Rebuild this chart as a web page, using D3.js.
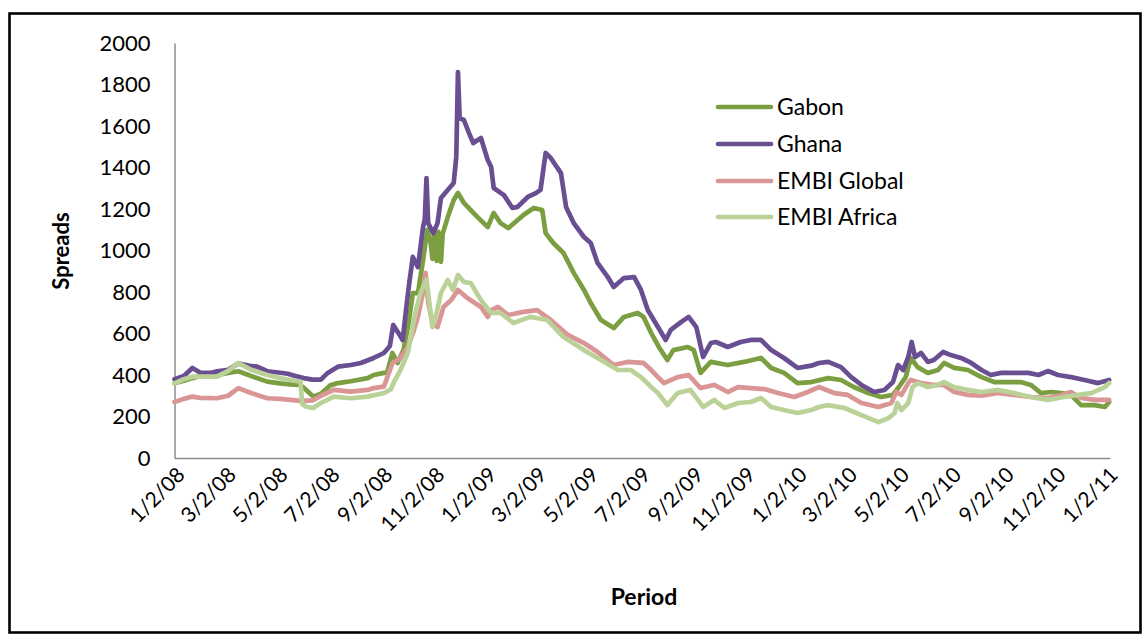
<!DOCTYPE html>
<html><head><meta charset="utf-8">
<script src="https://cdn.jsdelivr.net/npm/d3@7"></script>
<style>
html,body{margin:0;padding:0;background:#fff;}
svg text{font-family:Lato,"Open Sans",sans-serif;fill:#000;}
</style></head>
<body><svg id="c" width="1146" height="637"></svg>
<script>
const seriesNames = ["Gabon","Ghana","EMBI Global","EMBI Africa"];
const seriesColors = ["#7A9E40","#694E92","#D99694","#BAD298"];
const yTicks = [0,200,400,600,800,1000,1200,1400,1600,1800,2000];
const xTickLabels = ["1/2/08","3/2/08","5/2/08","7/2/08","9/2/08","11/2/08","1/2/09","3/2/09","5/2/09","7/2/09","9/2/09","11/2/09","1/2/10","3/2/10","5/2/10","7/2/10","9/2/10","11/2/10","1/2/11"];

const gabon = [["2008-01-02",360],["2008-01-13",372],["2008-01-23",385],["2008-02-01",395],["2008-02-21",400],["2008-03-05",410],["2008-03-17",418],["2008-04-01",395],["2008-04-20",368],["2008-05-05",360],["2008-05-17",355],["2008-05-29",352],["2008-06-04",330],["2008-06-13",296],["2008-06-22",310],["2008-07-03",350],["2008-07-12",361],["2008-07-27",370],["2008-08-16",385],["2008-08-23",400],["2008-09-04",410],["2008-09-08",415],["2008-09-14",506],["2008-09-20",458],["2008-09-27",520],["2008-10-03",650],["2008-10-08",795],["2008-10-14",795],["2008-10-20",954],["2008-10-25",1099],["2008-10-29",1036],["2008-10-31",960],["2008-11-02",1080],["2008-11-05",950],["2008-11-07",1090],["2008-11-10",945],["2008-11-12",1080],["2008-11-18",1161],["2008-11-25",1243],["2008-11-30",1277],["2008-12-07",1229],["2008-12-15",1195],["2008-12-23",1161],["2009-01-04",1113],["2009-01-11",1181],["2009-01-19",1132],["2009-01-28",1108],["2009-02-15",1171],["2009-02-27",1205],["2009-03-09",1195],["2009-03-13",1084],["2009-03-22",1036],["2009-04-03",988],["2009-04-15",892],["2009-04-27",810],["2009-05-05",747],["2009-05-17",665],["2009-06-01",626],["2009-06-13",680],["2009-06-29",699],["2009-07-06",680],["2009-07-15",602],["2009-07-24",535],["2009-08-03",472],["2009-08-10",520],["2009-08-27",535],["2009-09-03",520],["2009-09-11",410],["2009-09-23",463],["2009-10-13",448],["2009-11-01",463],["2009-11-21",482],["2009-12-03",434],["2009-12-18",410],["2010-01-03",361],["2010-01-19",366],["2010-02-08",385],["2010-02-23",376],["2010-03-10",342],["2010-03-27",313],["2010-04-11",294],["2010-04-25",304],["2010-05-02",342],["2010-05-10",390],["2010-05-16",482],["2010-05-24",438],["2010-06-05",410],["2010-06-17",424],["2010-06-24",458],["2010-07-06",434],["2010-07-22",424],["2010-08-07",390],["2010-08-22",366],["2010-09-07",366],["2010-09-22",366],["2010-10-04",352],["2010-10-16",313],["2010-10-28",318],["2010-11-09",313],["2010-11-20",304],["2010-12-02",255],["2010-12-18",255],["2010-12-30",246],["2011-01-04",270]];

const ghana = [["2008-01-02",380],["2008-01-13",395],["2008-01-23",434],["2008-02-01",412],["2008-02-13",410],["2008-02-21",418],["2008-03-05",425],["2008-03-17",455],["2008-03-29",445],["2008-04-08",440],["2008-04-20",418],["2008-05-03",412],["2008-05-14",406],["2008-05-23",395],["2008-06-02",385],["2008-06-12",378],["2008-06-22",378],["2008-06-30",410],["2008-07-12",440],["2008-07-27",448],["2008-08-08",458],["2008-08-23",482],["2008-09-04",506],["2008-09-11",540],["2008-09-15",641],["2008-09-21",602],["2008-09-26",569],["2008-09-30",713],["2008-10-04",850],["2008-10-08",969],["2008-10-14",920],["2008-10-20",1113],["2008-10-22",1150],["2008-10-24",1349],["2008-10-26",1132],["2008-11-01",1084],["2008-11-06",1132],["2008-11-10",1253],["2008-11-18",1292],["2008-11-25",1325],["2008-11-28",1451],["2008-11-30",1860],["2008-12-02",1638],["2008-12-07",1629],["2008-12-13",1566],["2008-12-18",1518],["2008-12-27",1542],["2009-01-04",1436],["2009-01-08",1402],["2009-01-11",1301],["2009-01-23",1267],["2009-02-02",1205],["2009-02-08",1210],["2009-02-20",1258],["2009-03-01",1275],["2009-03-07",1292],["2009-03-13",1470],["2009-03-19",1446],["2009-03-31",1373],["2009-04-06",1210],["2009-04-15",1132],["2009-04-27",1065],["2009-05-05",1036],["2009-05-13",940],["2009-05-25",872],["2009-06-01",824],["2009-06-13",867],["2009-06-25",872],["2009-07-03",810],["2009-07-11",713],["2009-07-23",631],["2009-08-01",569],["2009-08-07",617],["2009-08-19",655],["2009-08-28",680],["2009-09-06",631],["2009-09-14",487],["2009-09-23",554],["2009-09-29",559],["2009-10-13",535],["2009-10-28",559],["2009-11-09",569],["2009-11-21",569],["2009-12-03",520],["2009-12-18",482],["2010-01-03",434],["2010-01-19",445],["2010-01-28",458],["2010-02-08",463],["2010-02-23",438],["2010-03-07",390],["2010-03-19",352],["2010-04-03",318],["2010-04-15",328],["2010-04-25",366],["2010-05-01",448],["2010-05-07",424],["2010-05-13",487],["2010-05-17",559],["2010-05-21",487],["2010-05-28",506],["2010-06-05",463],["2010-06-12",472],["2010-06-23",511],["2010-07-02",496],["2010-07-14",482],["2010-07-26",458],["2010-08-07",424],["2010-08-18",400],["2010-08-30",410],["2010-09-14",410],["2010-10-01",410],["2010-10-13",400],["2010-10-24",419],["2010-11-05",400],["2010-11-20",390],["2010-12-06",376],["2010-12-22",361],["2011-01-04",376]];

const embiGlobal = [["2008-01-02",270],["2008-01-13",285],["2008-01-23",296],["2008-02-01",290],["2008-02-21",288],["2008-03-05",300],["2008-03-17",337],["2008-04-01",313],["2008-04-20",288],["2008-05-05",285],["2008-05-17",280],["2008-05-29",275],["2008-06-13",278],["2008-06-22",300],["2008-07-07",328],["2008-07-27",320],["2008-08-16",328],["2008-08-23",337],["2008-09-04",344],["2008-09-14",458],["2008-09-23",480],["2008-10-02",535],["2008-10-08",600],["2008-10-14",680],["2008-10-20",800],["2008-10-23",892],["2008-10-26",750],["2008-10-31",651],["2008-11-06",631],["2008-11-13",728],["2008-11-22",761],["2008-11-30",810],["2008-12-11",771],["2008-12-27",728],["2009-01-04",680],["2009-01-08",713],["2009-01-16",728],["2009-01-28",689],["2009-02-15",704],["2009-03-03",713],["2009-03-19",665],["2009-04-08",593],["2009-04-27",554],["2009-05-13",511],["2009-06-01",448],["2009-06-17",463],["2009-07-06",458],["2009-07-15",424],["2009-07-23",390],["2009-07-30",361],["2009-08-15",390],["2009-08-28",400],["2009-09-11",337],["2009-09-27",352],["2009-10-13",318],["2009-10-25",342],["2009-11-09",337],["2009-11-25",332],["2009-12-11",313],["2009-12-30",294],["2010-01-15",318],["2010-01-28",342],["2010-02-15",313],["2010-03-03",304],["2010-03-19",265],["2010-04-08",246],["2010-04-23",265],["2010-04-29",318],["2010-05-05",304],["2010-05-13",361],["2010-05-16",376],["2010-05-28",361],["2010-06-12",352],["2010-06-24",352],["2010-07-06",318],["2010-07-22",304],["2010-08-07",300],["2010-08-27",313],["2010-09-14",304],["2010-10-04",294],["2010-10-24",289],["2010-11-09",304],["2010-11-20",318],["2010-12-02",289],["2010-12-18",280],["2011-01-04",280]];

const embiAfrica = [["2008-01-02",360],["2008-01-13",380],["2008-01-23",392],["2008-02-01",392],["2008-02-21",392],["2008-03-05",420],["2008-03-17",458],["2008-04-01",425],["2008-04-20",400],["2008-05-05",385],["2008-05-17",376],["2008-05-29",368],["2008-05-31",260],["2008-06-05",247],["2008-06-13",241],["2008-06-22",265],["2008-07-07",296],["2008-07-27",288],["2008-08-16",296],["2008-09-04",313],["2008-09-12",330],["2008-09-17",376],["2008-09-23",420],["2008-10-02",506],["2008-10-11",700],["2008-10-17",795],["2008-10-24",858],["2008-10-31",631],["2008-11-05",700],["2008-11-10",795],["2008-11-18",858],["2008-11-24",810],["2008-11-30",882],["2008-12-07",848],["2008-12-15",843],["2008-12-27",761],["2009-01-08",699],["2009-01-19",699],["2009-02-03",651],["2009-02-23",680],["2009-03-15",665],["2009-04-03",583],["2009-04-27",520],["2009-05-17",472],["2009-06-06",424],["2009-06-21",424],["2009-07-03",390],["2009-07-15",342],["2009-07-23",313],["2009-08-03",255],["2009-08-15",313],["2009-08-30",328],["2009-09-14",246],["2009-09-27",280],["2009-10-09",241],["2009-10-25",265],["2009-11-09",270],["2009-11-21",289],["2009-12-03",246],["2009-12-18",231],["2010-01-03",217],["2010-01-19",231],["2010-01-28",246],["2010-02-08",255],["2010-02-27",241],["2010-03-19",207],["2010-04-08",173],["2010-04-20",193],["2010-04-27",217],["2010-04-30",265],["2010-05-05",231],["2010-05-13",265],["2010-05-18",342],["2010-05-24",361],["2010-06-05",342],["2010-06-17",352],["2010-06-24",366],["2010-07-06",342],["2010-07-22",328],["2010-08-07",318],["2010-08-27",328],["2010-09-14",313],["2010-10-04",294],["2010-10-24",280],["2010-11-12",294],["2010-11-29",304],["2010-12-14",313],["2010-12-30",342],["2011-01-04",361]];

(function(){
const allSeries = [gabon, ghana, embiGlobal, embiAfrica];
const parseISO = d3.timeParse("%Y-%m-%d");
const parseTick = d3.timeParse("%m/%d/%y");

const svg = d3.select("#c");
const pLeft = 174.5, pRight = 1110, pTop = 43, pBottom = 458;

// outer frame
svg.append("rect").attr("x",9.5).attr("y",13.5).attr("width",1131).attr("height",619)
  .attr("fill","none").attr("stroke","#000").attr("stroke-width",2.6);

const x = d3.scaleTime().domain([parseISO("2008-01-02"), parseISO("2011-01-05")]).range([pLeft, pRight]);
const y = d3.scaleLinear().domain([0,2000]).range([pBottom, pTop]);

// y axis
const yAxis = d3.axisLeft(y).tickValues(yTicks).tickSize(0).tickPadding(24).tickFormat(d3.format("d"));
const gy = svg.append("g").attr("transform",`translate(${pLeft},0)`).call(yAxis);
gy.select(".domain").attr("stroke","#8c8c8c").attr("stroke-width",1.5);
gy.selectAll("text").attr("font-size",22).attr("font-family","Lato").attr("fill","#000");

// x axis
const xTicks = xTickLabels.map(parseTick);
const xAxis = d3.axisBottom(x).tickValues(xTicks).tickSize(0).tickFormat((d,i)=>xTickLabels[i]);
const gx = svg.append("g").attr("transform",`translate(0,${pBottom})`).call(xAxis);
gx.select(".domain").attr("stroke","#8c8c8c").attr("stroke-width",1.5);
gx.selectAll("text").attr("font-size",21).attr("font-family","Lato").attr("fill","#000")
  .attr("text-anchor","end").attr("dy","0.35em").attr("y",0)
  .attr("transform","translate(6,13) rotate(-45)");

// lines
const line = d3.line().x(d=>x(parseISO(d[0]))).y(d=>y(d[1]));
allSeries.forEach((s,i)=>{
  svg.append("path").datum(s).attr("d",line).attr("fill","none")
    .attr("stroke",seriesColors[i]).attr("stroke-width",4.7)
    .attr("stroke-linejoin","round").attr("stroke-linecap","round");
});

// legend
const legY = [107,144,181,217];
seriesNames.forEach((n,i)=>{
  svg.append("line").attr("x1",718).attr("x2",771).attr("y1",legY[i]).attr("y2",legY[i])
    .attr("stroke",seriesColors[i]).attr("stroke-width",4.7).attr("stroke-linecap","round");
  svg.append("text").attr("x",777).attr("y",legY[i]).attr("dy","0.36em")
    .attr("font-size",23).text(n);
});

// axis titles
svg.append("text").attr("transform","translate(69,251) rotate(-90)").attr("text-anchor","middle")
  .attr("font-size",22).attr("font-weight","bold").text("Spreads");
svg.append("text").attr("x",644).attr("y",605).attr("text-anchor","middle")
  .attr("font-size",23).attr("font-weight","bold").text("Period");
})();
</script></body></html>
